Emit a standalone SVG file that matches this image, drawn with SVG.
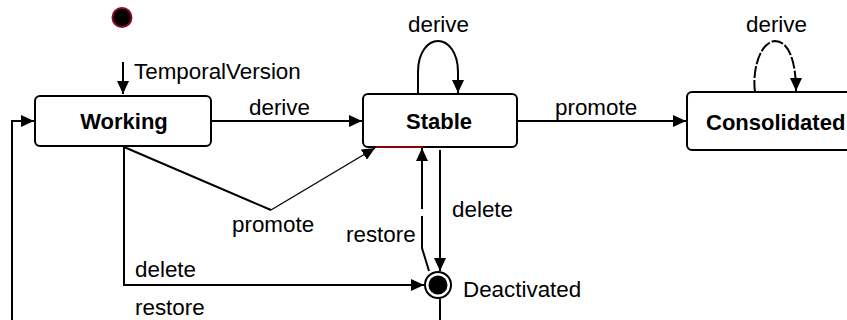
<svg xmlns="http://www.w3.org/2000/svg" width="847" height="320" viewBox="0 0 847 320">
  <defs>
    <marker id="arrow" markerUnits="userSpaceOnUse" markerWidth="14" markerHeight="12" refX="13" refY="6" orient="auto">
      <path d="M0,0 L13,6 L0,12 Z" fill="#000"/>
    </marker>
    <style>
      .state { fill: #fff; stroke: #000; stroke-width: 2; }
      .name { font-family: "Liberation Sans", Arial, sans-serif; font-size: 22px; font-weight: bold; fill: #000; }
      .lbl { font-family: "Liberation Sans", Arial, sans-serif; font-size: 22.4px; fill: #000; }
      .edge { fill: none; stroke: #000; stroke-width: 2; }
      .thin { fill: none; stroke: #000; stroke-width: 1.3; }
    </style>
  </defs>
  <rect width="847" height="320" fill="#fff"/>

  <!-- initial pseudo-state -->
  <g id="initial">
    <circle cx="122" cy="17.5" r="9.5" fill="#000" stroke="#8b0a2a" stroke-width="2"/>
  </g>

  <!-- states -->
  <g id="working">
    <rect class="state" x="35" y="96" width="176" height="50" rx="5"/>
    <text class="name" x="124" y="129" text-anchor="middle">Working</text>
  </g>
  <g id="stable">
    <rect class="state" x="363" y="94" width="154" height="53" rx="5"/>
    <text class="name" x="439" y="129" text-anchor="middle">Stable</text>
  </g>
  <g id="consolidated">
    <rect class="state" x="687" y="92" width="180" height="58" rx="5"/>
    <text class="name" x="706" y="130">Consolidated</text>
  </g>
  <g id="deactivated">
    <circle cx="438" cy="285" r="13" fill="#fff" stroke="#000" stroke-width="2"/>
    <circle cx="438" cy="285" r="9.5" fill="#000"/>
    <text class="lbl" x="463" y="297">Deactivated</text>
  </g>

  <!-- transitions -->
  <g id="connectors">
    <!-- TemporalVersion -->
    <line class="edge" x1="123" y1="62" x2="123" y2="94" marker-end="url(#arrow)"/>
    <text class="lbl" x="134" y="79">TemporalVersion</text>

    <!-- Working -> Stable: derive -->
    <line class="edge" x1="212" y1="121" x2="362" y2="121" marker-end="url(#arrow)"/>
    <text class="lbl" x="249" y="115">derive</text>

    <!-- Stable -> Consolidated: promote -->
    <line class="edge" x1="518" y1="121" x2="686" y2="121" marker-end="url(#arrow)"/>
    <text class="lbl" x="555" y="115">promote</text>

    <!-- Stable self-loop: derive -->
    <path class="edge" d="M418,94 L418,72 C418,52 428,41 438,41 C448,41 458,52 458,72 L458,93" marker-end="url(#arrow)"/>
    <text class="lbl" x="408" y="32">derive</text>

    <!-- Consolidated self-loop: derive -->
    <path class="edge" stroke-dasharray="12 2" d="M755,92 C752,70 760,42 775,41 C789,41 796,62 796,91" marker-end="url(#arrow)"/>
    <text class="lbl" x="746" y="32">derive</text>

    <!-- Working -> Stable: promote -->
    <polyline class="edge" points="124,147 271,210"/>
    <line class="thin" x1="271" y1="210" x2="375" y2="148" marker-end="url(#arrow)"/>
    <text class="lbl" x="232" y="232">promote</text>
    <line x1="376" y1="147" x2="423" y2="147" stroke="#8b0000" stroke-width="2"/>

    <!-- Working -> Deactivated: delete -->
    <polyline class="edge" points="124,147 124,285 424,285" marker-end="url(#arrow)"/>
    <text class="lbl" x="135" y="277">delete</text>

    <!-- Stable -> Deactivated: delete -->
    <line class="edge" x1="440" y1="150" x2="440" y2="271" marker-end="url(#arrow)"/>
    <text class="lbl" x="452" y="217">delete</text>

    <!-- Deactivated -> Stable: restore -->
    <polyline class="edge" points="429,271 422,248 422,216"/>
    <line class="edge" x1="422" y1="209" x2="422" y2="148" marker-end="url(#arrow)"/>
    <text class="lbl" x="346" y="242">restore</text>

    <!-- Deactivated -> Working: restore -->
    <polyline class="edge" points="440,299 440,330 12,330 12,121 34,121" marker-end="url(#arrow)"/>
    <text class="lbl" x="135" y="315">restore</text>
  </g>
</svg>
